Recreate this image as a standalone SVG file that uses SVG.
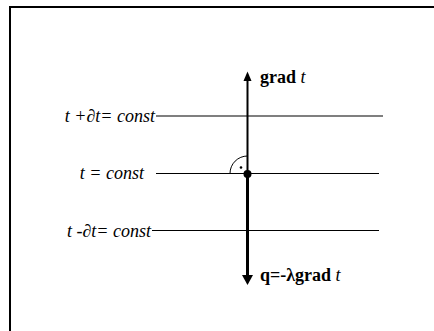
<svg xmlns="http://www.w3.org/2000/svg" width="434" height="331" viewBox="0 0 434 331">
<style>
.lbl{font-family:"Liberation Serif","Times New Roman",serif;font-size:18px;fill:#000}
.it{font-style:italic}
.b{font-weight:bold}
.iso{stroke:#000;stroke-width:1.2;fill:none}
</style>
<defs>
<marker id="ahUp" markerWidth="8" markerHeight="10" refX="4" refY="0" orient="auto-start-reverse" markerUnits="userSpaceOnUse" viewBox="0 0 8 10">
<path d="M0,10 L4,0 L8,10 Z" fill="#000"/>
</marker>
</defs>
<rect x="10" y="7" width="440" height="340" fill="#fff" stroke="#000" stroke-width="2"/>
<g id="connectors">
<line id="iso1" class="iso" x1="156" y1="116" x2="383" y2="116"/>
<line id="iso2" class="iso" x1="156" y1="173.5" x2="379" y2="173.5"/>
<line id="iso3" class="iso" x1="152" y1="230.5" x2="379" y2="230.5"/>
<line id="gradArrow" x1="247.5" y1="173.5" x2="247.5" y2="81" stroke="#000" stroke-width="2"/>
<path d="M243.5,81 L247.5,71.5 L251.5,81 Z" fill="#000"/>
<line id="qArrow" x1="247.5" y1="173.5" x2="247.5" y2="276" stroke="#000" stroke-width="3"/>
<path d="M242,275 L247.5,285 L253,275 Z" fill="#000"/>
<path d="M230,173.5 A17.5,17.5 0 0 1 247.5,156" fill="none" stroke="#000" stroke-width="1"/>
<circle cx="241" cy="167.5" r="1.3" fill="#000"/>
<circle cx="247.5" cy="174" r="4" fill="#000"/>
</g>
<g id="label-grad"><text class="lbl b" x="260" y="83">grad <tspan class="it" font-weight="normal">t</tspan></text></g>
<g id="label-q"><text class="lbl b" x="260" y="281">q=-λgrad <tspan class="it" font-weight="normal">t</tspan></text></g>
<g id="label-plus"><text class="lbl it" x="155" y="122" text-anchor="end">t +∂t= const</text></g>
<g id="label-mid"><text class="lbl it" x="144" y="179" text-anchor="end">t = const</text></g>
<g id="label-minus"><text class="lbl it" x="151" y="236.5" text-anchor="end">t -∂t= const</text></g>
</svg>
